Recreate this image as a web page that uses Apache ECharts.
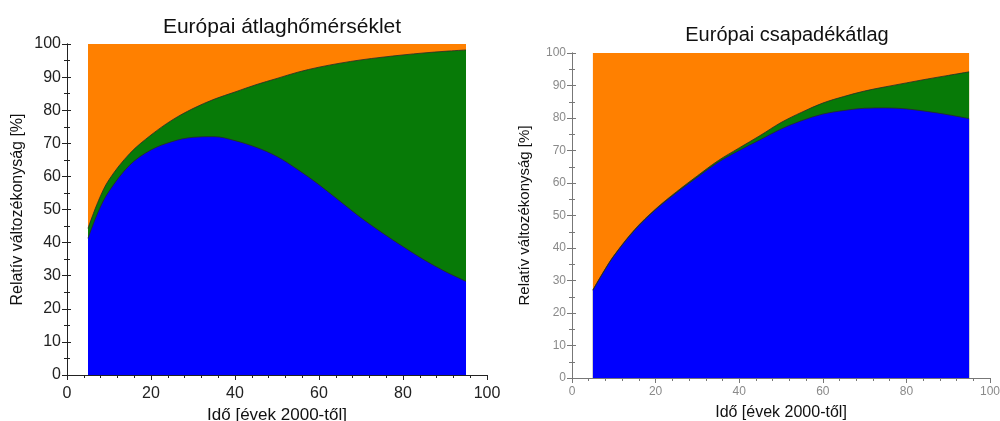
<!DOCTYPE html>
<html>
<head>
<meta charset="utf-8">
<script src="https://cdn.jsdelivr.net/npm/echarts@6/dist/echarts.min.js"></script>
<style>html,body{margin:0;padding:0;background:#fff}#c{width:1000px;height:421px}</style>
</head>
<body>
<div id="c"></div>
<script>
const years = [5,7.5,10,15,20,25,30,35,40,45,50,55,60,65,70,75,80,85,90,95];

// Európai átlaghőmérséklet (shares, %)
const tempBlue   = [41.3,49.5,55.5,63.5,68,70.5,71.8,72,70.8,68.8,66,62,57.5,52.5,47.5,43,38.8,34.8,31.3,28.3];
const tempGreen  = [3.0,3.2,3.5,3.5,4.5,6.5,8.7,11.3,14.7,18.9,23.6,29.5,35.5,41.7,47.7,53,57.9,62.5,66.5,69.9];
const tempOrange = [55.7,47.3,41,33,27.5,23,19.5,16.7,14.5,12.3,10.4,8.5,7,5.8,4.8,4,3.3,2.7,2.2,1.8];

// Európai csapadékátlag (shares, %)
const precBlue   = [27,32.5,37.5,45.5,51.8,57,61.8,66.4,70,73.3,76.6,79.2,81.2,82.3,83,83.1,82.8,82,81,79.8];
const precGreen  = [0.1,0.1,0.1,0.2,0.2,0.3,0.4,0.5,0.8,1.3,2.0,2.6,3.4,4.3,5.3,6.5,8.0,10.0,12.1,14.4];
const precOrange = [72.9,67.4,62.4,54.3,48,42.7,37.8,33.1,29.2,25.4,21.4,18.2,15.4,13.4,11.7,10.4,9.2,8.0,6.9,5.8];

const xTicks = [0,20,40,60,80,100];
const yTicks = [0,10,20,30,40,50,60,70,80,90,100];

const titleLeft = 'Európai átlaghőmérséklet';
const titleRight = 'Európai csapadékátlag';
const xName = 'Idő [évek 2000-től]';
const yName = 'Relatív változékonyság [%]';

const COL = {blue:'#0000FF', green:'#077A07', orange:'#FF8000'};
const FONT = 'Liberation Sans, Arial, sans-serif';

// cumulative stacking (blue at bottom, then green, then orange)
function cumulative(layers){
  return years.map((x,i)=>{ let s=0; for(let k=0;k<layers.length;k++) s+=layers[k][i]; return [x, +s.toFixed(2)]; });
}

function xAxes(grid, labelColor, lineColor, fs, margin, nameGap, nameFs){
  return [
    {type:'value', gridIndex:grid, position:'bottom', min:0, max:100, interval:20,
     axisLine:{show:true,lineStyle:{color:lineColor,width:1}},
     axisTick:{show:true,length:5,lineStyle:{color:lineColor}},
     minorTick:{show:true,splitNumber:5,length:3,lineStyle:{color:lineColor}},
     splitLine:{show:false}, minorSplitLine:{show:false},
     axisLabel:{color:labelColor,fontSize:fs,fontFamily:FONT,margin:margin},
     name:xName, nameLocation:'middle', nameGap:nameGap,
     nameTextStyle:{color:'#111',fontSize:nameFs,fontFamily:FONT}},
    {type:'value', gridIndex:grid, position:'top', min:0, max:100, interval:20,
     axisLine:{show:true,lineStyle:{color:lineColor,width:1}},
     axisTick:{show:true,inside:true,length:4,lineStyle:{color:lineColor}},
     minorTick:{show:true,splitNumber:5,length:3,lineStyle:{color:lineColor}},
     splitLine:{show:false}, axisLabel:{show:false}}
  ];
}
function yAxes(grid, labelColor, lineColor, fs, nameGap, nameFs){
  return [
    {type:'value', gridIndex:grid, position:'left', min:0, max:100, interval:10,
     axisLine:{show:true,lineStyle:{color:lineColor,width:1}},
     axisTick:{show:true,length:5,lineStyle:{color:lineColor}},
     minorTick:{show:true,splitNumber:2,length:3,lineStyle:{color:lineColor}},
     splitLine:{show:false},
     axisLabel:{color:labelColor,fontSize:fs,fontFamily:FONT,margin:6},
     name:yName, nameLocation:'middle', nameGap:nameGap,
     nameTextStyle:{color:'#111',fontSize:nameFs,fontFamily:FONT}},
    {type:'value', gridIndex:grid, position:'right', min:0, max:100, interval:10,
     axisLine:{show:true,lineStyle:{color:lineColor,width:1}},
     axisTick:{show:true,length:4,lineStyle:{color:lineColor}},
     minorTick:{show:true,splitNumber:2,length:3,lineStyle:{color:lineColor}},
     splitLine:{show:false}, axisLabel:{show:false}}
  ];
}

function area(name, data, color, xi, yi, lw){
  return {type:'line', name, data, xAxisIndex:xi, yAxisIndex:yi,
    smooth:0.35, showSymbol:false, symbol:'none',
    lineStyle:{color:'#2a2a2a', width:lw},
    areaStyle:{color, opacity:1, origin:'start'}, emphasis:{disabled:true}, z:2};
}

const chart = echarts.init(document.getElementById('c'), null, {renderer:'canvas'});
chart.setOption({
  animation:false,
  backgroundColor:'#fff',
  title:[
    {text:titleLeft, left:277, top:12, textAlign:'center',
     textStyle:{fontSize:21,fontWeight:'normal',color:'#111',fontFamily:FONT}},
    {text:titleRight, left:782, top:20, textAlign:'center',
     textStyle:{fontSize:20,fontWeight:'normal',color:'#111',fontFamily:FONT}}
  ],
  grid:[
    {left:67, top:44, width:420, height:331, containLabel:false, outerBoundsMode:'none'},
    {left:572, top:53, width:418, height:325, containLabel:false, outerBoundsMode:'none'}
  ],
  xAxis:[].concat(xAxes(0,'#222','#222',16,11,32,17), xAxes(1,'#8a8a8a','#777',12,8,27,16)),
  yAxis:[].concat(yAxes(0,'#222','#222',16,41,16), yAxes(1,'#8a8a8a','#777',12,40,15)),
  series:[
    area('orange', cumulative([tempBlue,tempGreen,tempOrange]), COL.orange, 0, 0, 0),
    area('green', cumulative([tempBlue,tempGreen]), COL.green, 0, 0, 0.8),
    area('blue', cumulative([tempBlue]), COL.blue, 0, 0, 0.8),
    area('orange', cumulative([precBlue,precGreen,precOrange]), COL.orange, 2, 2, 0),
    area('green', cumulative([precBlue,precGreen]), COL.green, 2, 2, 0.8),
    area('blue', cumulative([precBlue]), COL.blue, 2, 2, 0.8)
  ]
});
</script>
</body>
</html>
